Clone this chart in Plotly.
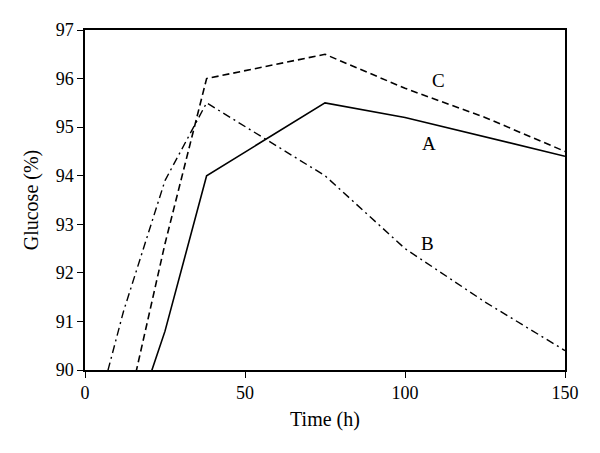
import plotly.graph_objects as go

# Glucose (%) vs time (h); lines run below 90 and are clipped by the axis range
time_a = [0, 25, 38, 75, 100, 125, 150]
glucose_a = [85.9, 90.8, 94.0, 95.5, 95.2, 94.8, 94.4]

time_b = [0, 12, 25, 38, 75, 100, 125, 150]
glucose_b = [88.2, 91.2, 93.9, 95.5, 94.0, 92.5, 91.4, 90.4]

time_c = [0, 25, 38, 75, 100, 125, 150]
glucose_c = [85.3, 92.6, 96.0, 96.5, 95.8, 95.2, 94.5]

labels = ["A", "B", "C"]
label_x = [107.5, 107, 110.5]
label_y = [94.67, 92.6, 95.97]

FONT = "Liberation Serif"

fig = go.Figure()

fig.add_trace(go.Scatter(x=time_a, y=glucose_a, mode="lines",
                         line=dict(color="black", width=1.6)))
fig.add_trace(go.Scatter(x=time_b, y=glucose_b, mode="lines",
                         line=dict(color="black", width=1.4,
                                   dash="8px,4px,2px,4px")))
fig.add_trace(go.Scatter(x=time_c, y=glucose_c, mode="lines",
                         line=dict(color="black", width=1.6, dash="7px,4px")))

for lab, lx, ly in zip(labels, label_x, label_y):
    fig.add_annotation(x=lx, y=ly, text=lab, showarrow=False,
                       font=dict(family=FONT, size=19, color="black"))

axis_common = dict(
    showgrid=False, zeroline=False,
    showline=True, linecolor="black", linewidth=1.5, mirror=True,
    ticks="outside", ticklen=6, tickcolor="black", tickwidth=1.2,
    tickfont=dict(family=FONT, size=18, color="black"),
)

fig.update_layout(
    width=600, height=453,
    paper_bgcolor="white", plot_bgcolor="white",
    margin=dict(l=77, r=43, t=22, b=91),
    showlegend=False,
    xaxis=dict(range=[0, 150], tickvals=[0, 50, 100, 150],
               title=dict(text="Time (h)", standoff=10,
                          font=dict(family=FONT, size=20, color="black")),
               **axis_common),
    yaxis=dict(range=[90, 97], dtick=1,
               title=dict(text="Glucose (%)", standoff=12,
                          font=dict(family=FONT, size=20, color="black")),
               **axis_common),
)

fig.write_html("out.html")
